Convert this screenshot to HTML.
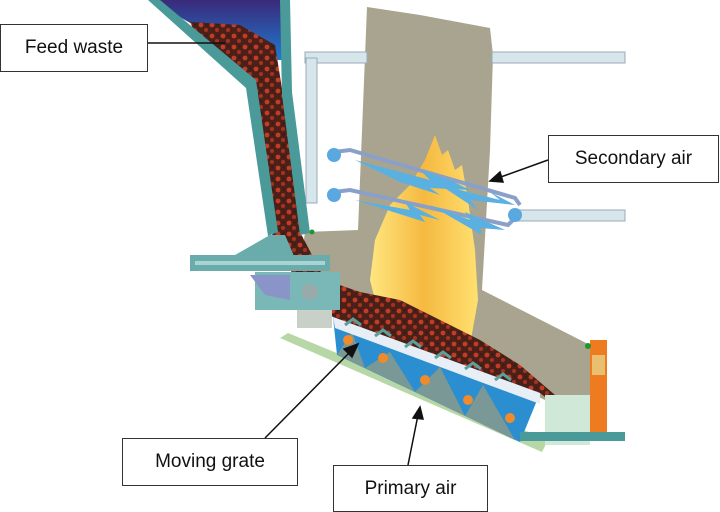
<!DOCTYPE html>
<html><head><meta charset="utf-8"><style>
html,body{margin:0;padding:0;background:#fff;width:720px;height:512px;overflow:hidden}
.lbl{position:absolute;background:#fff;border:1px solid #333;font-family:"Liberation Sans",sans-serif;font-size:19px;color:#111;display:flex;align-items:center;justify-content:center;box-sizing:border-box}
</style></head><body>
<svg width="720" height="512" style="position:absolute;left:0;top:0">
<defs>
<linearGradient id="hop" x1="0" y1="0" x2="0" y2="1"><stop offset="0" stop-color="#3a2a7a"/><stop offset="1" stop-color="#1e7ad0"/></linearGradient>
<linearGradient id="fl" x1="0" y1="0" x2="1" y2="0"><stop offset="0" stop-color="#ffe680"/><stop offset="0.5" stop-color="#f5b940"/><stop offset="1" stop-color="#ffe070"/></linearGradient>
<pattern id="ws" width="11" height="11" patternUnits="userSpaceOnUse"><rect width="11" height="11" fill="#4a2018"/><circle cx="3" cy="3" r="2.4" fill="#c43c26"/><circle cx="8" cy="8" r="2" fill="#a8321f"/><circle cx="8.5" cy="2.5" r="1.2" fill="#3a1a14"/></pattern>
</defs>
<polygon points="150,0 285,0 285,60 255,60" fill="url(#hop)"/>
<polygon points="367,7 420,15 490,28 493,55 490,150 482,290 590,345 590,420 545,400 330,300 300,270 305,232 358,230" fill="#a9a48f"/>
<rect x="305" y="52" width="62" height="11" fill="#d6e6ea" stroke="#9ab"/>
<rect x="492" y="52" width="133" height="11" fill="#d6e6ea" stroke="#9ab"/>
<rect x="306" y="58" width="11" height="145" fill="#d6e6ea" stroke="#9ab"/>
<rect x="515" y="210" width="110" height="11" fill="#d6e6ea" stroke="#9ab"/>
<polygon points="385,340 370,280 375,240 390,205 410,185 425,160 435,135 442,155 448,150 455,170 462,165 468,200 475,250 478,300 470,345" fill="url(#fl)"/>
<path d="M334,152 L350,150 L515,198 L520,205 M334,192 L350,190 L508,225 L518,215" fill="none" stroke="#8aa0c8" stroke-width="4"/>
<circle cx="334" cy="155" r="7" fill="#5aa8e0"/><circle cx="334" cy="195" r="7" fill="#5aa8e0"/><circle cx="515" cy="215" r="7" fill="#5aa8e0"/>
<polygon points="355,160 430,180 420,170 450,180 470,190 430,188 440,195 400,182" fill="#5ab0e0"/>
<polygon points="440,185 500,200 490,192 515,205 470,200 478,210" fill="#5ab0e0"/>
<polygon points="355,200 410,210 405,202 440,220 420,215 425,222" fill="#5ab0e0"/>
<polygon points="430,205 470,220 465,212 505,230 480,228 482,235" fill="#5ab0e0"/>
<polygon points="190,22 240,25 275,45 283,95 300,232 325,280 360,292 400,300 440,320 480,340 520,365 555,395 555,405 540,393 333,317 305,295 273,240 255,90 200,45" fill="url(#ws)"/>
<polygon points="148,0 160,0 256,80 278,232 268,236 246,88" fill="#4a9a9a"/>
<polygon points="280,0 290,0 292,92 310,233 300,235 282,95" fill="#4a9a9a"/>
<polygon points="235,255 270,235 285,235 300,270 250,270" fill="#6aacac"/>
<rect x="190" y="255" width="140" height="16" fill="#6aacac"/>
<rect x="195" y="261" width="130" height="4" fill="#a8d4d4"/>
<rect x="255" y="272" width="85" height="38" fill="#7ab8b8"/>
<polygon points="250,275 290,275 290,300 265,295" fill="#8a94c8"/>
<circle cx="310" cy="292" r="8" fill="#9aa"/>
<rect x="297" y="310" width="35" height="18" fill="#c8d0c8"/>
<polygon points="280,338 288,333 548,440 542,452" fill="#b7d7a7"/>
<polygon points="333,317 540,393 520,442 337,355" fill="#2a8ed0"/>
<g fill="#7a9896">
<polygon points="337,355 352,332 365,368"/>
<polygon points="365,368 390,352 415,392"/>
<polygon points="415,392 440,367 465,416"/>
<polygon points="465,416 483,385 515,440"/>
</g>
<polygon points="333,317 540,393 540,404 335,328" fill="#e8eef5"/>
<g stroke="#5aa09a" stroke-width="3" fill="none"><path d="M345,325 l8,-6 l8,6 M375,336 l8,-6 l8,6 M405,347 l8,-6 l8,6 M435,358 l8,-6 l8,6 M465,369 l8,-6 l8,6 M495,380 l8,-6 l8,6"/></g>
<g fill="#f08a2a"><circle cx="348" cy="340" r="5"/><circle cx="383" cy="358" r="5"/><circle cx="425" cy="380" r="5"/><circle cx="468" cy="400" r="5"/><circle cx="510" cy="418" r="5"/><circle cx="550" cy="402" r="5"/></g>
<rect x="590" y="340" width="17" height="95" fill="#ef7b20"/>
<rect x="592" y="355" width="13" height="20" fill="#e8c070"/>
<rect x="545" y="395" width="45" height="50" fill="#cfe8d8"/>
<rect x="520" y="432" width="105" height="9" fill="#4a9a9a"/>
<circle cx="312" cy="232" r="2.5" fill="#1a9a2a"/><circle cx="588" cy="346" r="3" fill="#1a9a2a"/>
<g stroke="#111" stroke-width="1.5" fill="#111">
<line x1="148" y1="43" x2="225" y2="43"/>
<line x1="548" y1="160" x2="498" y2="178"/><polygon points="490,181 500,172 503,182"/>
<line x1="265" y1="438" x2="352" y2="350"/><polygon points="358,344 344,349 352,357"/>
<line x1="408" y1="465" x2="418" y2="415"/><polygon points="420,407 413,418 423,419"/>
</g>
</svg>
<div class="lbl" style="left:0;top:24px;width:148px;height:48px">Feed waste</div>
<div class="lbl" style="left:548px;top:135px;width:171px;height:48px">Secondary air</div>
<div class="lbl" style="left:122px;top:438px;width:176px;height:48px">Moving grate</div>
<div class="lbl" style="left:333px;top:465px;width:155px;height:47px">Primary air</div>
</body></html>
